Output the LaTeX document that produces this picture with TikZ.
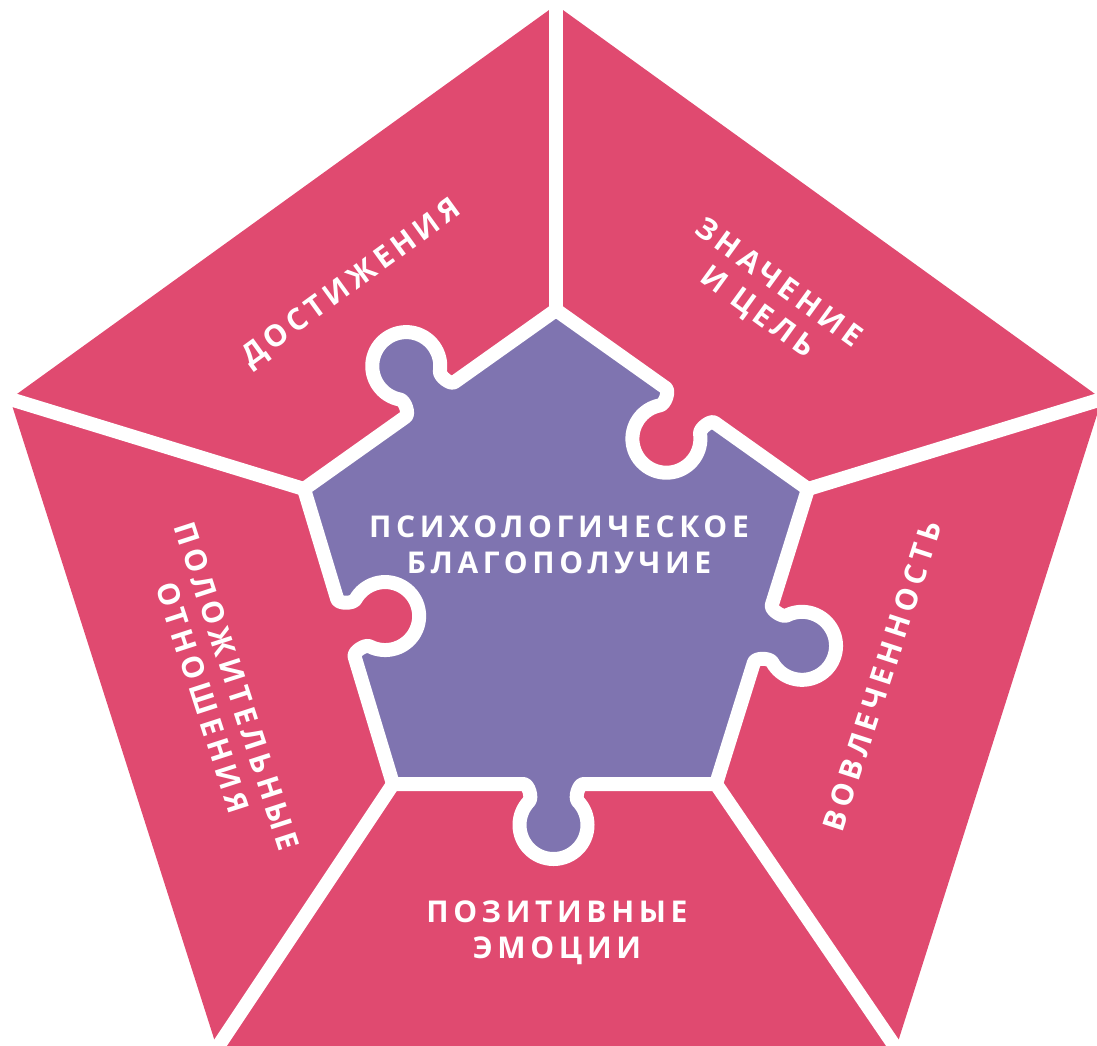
\documentclass[tikz,border=0pt]{standalone}
\usepackage{fontspec}
\newfontfamily\lblfont[LetterSpace=15.5]{Open Sans}
\definecolor{pk}{HTML}{E04A70}
\definecolor{pu}{HTML}{7F74B0}
% puzzle tab: #1 midpoint, #2 edge angle, #3 side (+1 inward, -1 outward), #4 shift along edge
\newcommand\ptab[4]{%
 -- ([tf={#1}{#2}]{#4-30},0)
 .. controls ([tf={#1}{#2}]{#4-25},0) and ([tf={#1}{#2}]{#4-21},{#3*13.8}) .. ([tf={#1}{#2}]{#4-24.5},{#3*17.4})
 .. controls ([tf={#1}{#2}]{#4-30.6},{#3*23.7}) and ([tf={#1}{#2}]{#4-34},{#3*32.2}) .. ([tf={#1}{#2}]{#4-34},{#3*41})
 .. controls ([tf={#1}{#2}]{#4-34},{#3*59.78}) and ([tf={#1}{#2}]{#4-18.78},{#3*75}) .. ([tf={#1}{#2}]{#4},{#3*75})
 .. controls ([tf={#1}{#2}]{#4+18.78},{#3*75}) and ([tf={#1}{#2}]{#4+34},{#3*59.78}) .. ([tf={#1}{#2}]{#4+34},{#3*41})
 .. controls ([tf={#1}{#2}]{#4+34},{#3*32.2}) and ([tf={#1}{#2}]{#4+30.6},{#3*23.7}) .. ([tf={#1}{#2}]{#4+24.5},{#3*17.4})
 .. controls ([tf={#1}{#2}]{#4+21},{#3*13.8}) and ([tf={#1}{#2}]{#4+25},0) .. ([tf={#1}{#2}]{#4+30},0)
}
\begin{document}
\begin{tikzpicture}[x=1pt,y=-1pt,
  lbl/.style={text=white, font=\lblfont\bfseries\fontsize{30}{36}\selectfont, align=center, inner sep=0pt},
  divider/.style={draw=white, line width=14pt},
  tf/.style 2 args={shift={(#1)},rotate=#2}]
\useasboundingbox (0,0) rectangle (1097,1045);
\clip (0,0) rectangle (1097,1045);
% outer pentagon
\coordinate (oT) at (556,5);
\coordinate (oR) at (1102,399);
\coordinate (oBR) at (896,1048);
\coordinate (oBL) at (217,1048);
\coordinate (oL) at (10,399);
% inner pentagon
\coordinate (iT) at (556,310);
\coordinate (iR) at (808,489);
\coordinate (iBR) at (716,784);
\coordinate (iBL) at (393,784);
\coordinate (iL) at (304,489);
% edge midpoints
\coordinate (m1) at (682,399.5);
\coordinate (m2) at (762,636.5);
\coordinate (m3) at (554.5,784);
\coordinate (m4) at (348.5,636.5);
\coordinate (m5) at (430,399.5);
\fill[pk] (oT) -- (oR) -- (oBR) -- (oBL) -- (oL) -- cycle;
\foreach \a in {T,R,BR,BL,L} \draw[divider, shorten <=-12pt] (o\a) -- (i\a);
\path[fill=pu, draw=white, line width=14pt, line join=round]
  (iT) \ptab{m1}{-35.4}{1}{10} -- (iR) \ptab{m2}{-107.3}{-1}{-3}
  -- (iBR) \ptab{m3}{180}{-1}{1} -- (iBL) \ptab{m4}{106.8}{1}{9}
  -- (iL) \ptab{m5}{35.4}{-1}{0} -- cycle;
% labels
\node[lbl] (center) at (559,545) {ПСИХОЛОГИЧЕСКОЕ\\БЛАГОПОЛУЧИЕ};
\node[lbl, rotate=36] (ach) at (352,284) {ДОСТИЖЕНИЯ};
\node[lbl, rotate=-36] (mean) at (767,299) {ЗНАЧЕНИЕ\\И ЦЕЛЬ};
\node[lbl, rotate=72] (eng) at (882,676) {ВОВЛЕЧЕННОСТЬ};
\node[lbl] (pos) at (557,933) {ПОЗИТИВНЫЕ\\ЭМОЦИИ};
\node[lbl, rotate=-72] (rel) at (220,692) {ПОЛОЖИТЕЛЬНЫЕ\\ОТНОШЕНИЯ};
\end{tikzpicture}
\end{document}
